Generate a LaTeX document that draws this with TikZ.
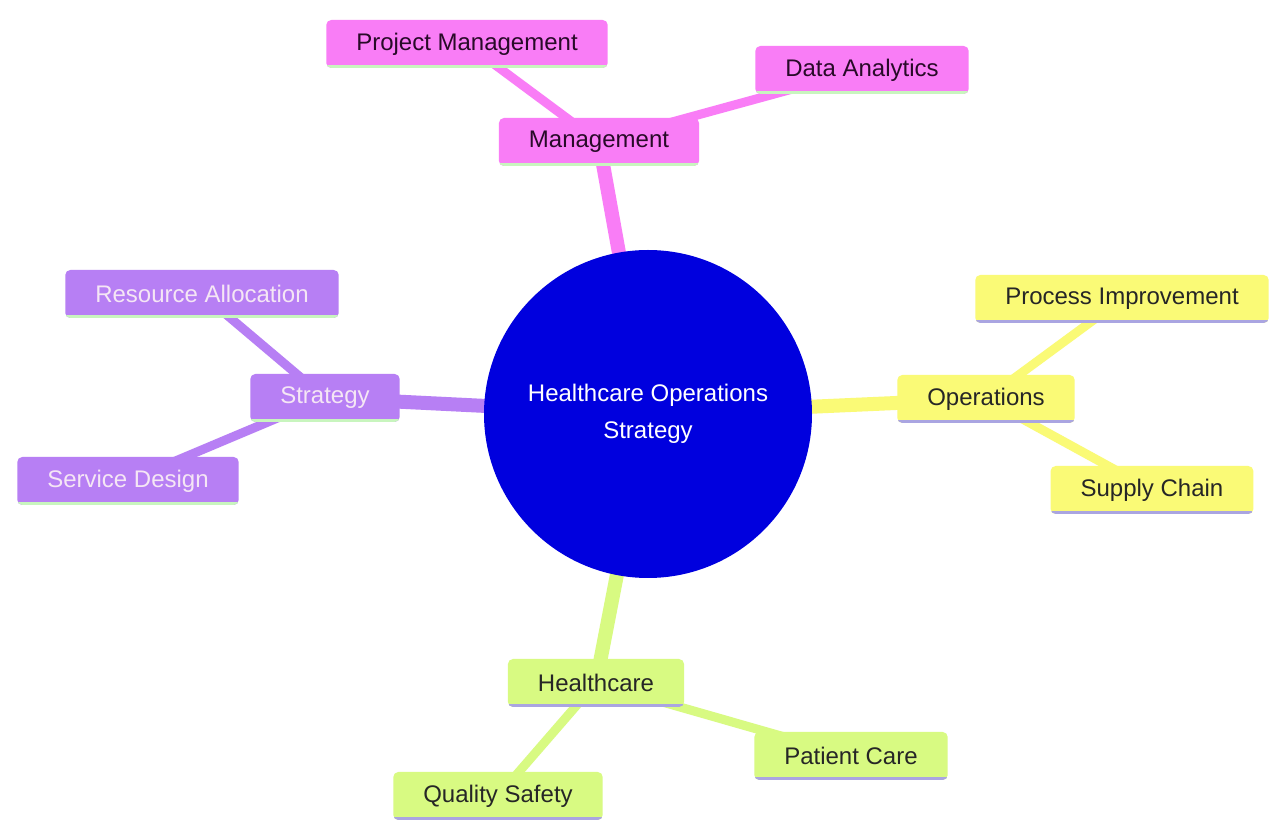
\documentclass[tikz,border=0pt]{standalone}
\usepackage{fontspec}
\setmainfont{Liberation Sans}
\usetikzlibrary{backgrounds}
\definecolor{mgmt}{RGB}{249,125,246}
\definecolor{strat}{RGB}{183,127,244}
\definecolor{oper}{RGB}{250,250,118}
\definecolor{hcare}{RGB}{216,250,130}
\definecolor{rootblue}{RGB}{0,0,222}
\definecolor{ulgreen}{RGB}{200,245,190}
\definecolor{ullav}{RGB}{170,165,225}
\definecolor{softwhite}{RGB}{245,230,245}
\tikzset{
  box/.style={rounded corners=2.5pt, inner xsep=15pt, minimum height=24pt,
    font=\fontsize{12}{14}\selectfont},
  ul/.style={path picture={\draw[#1, line width=3pt]
    (path picture bounding box.south west) -- (path picture bounding box.south east);}},
  mgmtbox/.style={box, fill=mgmt, text={rgb,255:red,40;green,10;blue,40}, ul=ulgreen},
  stratbox/.style={box, fill=strat, text=softwhite, ul=ulgreen},
  operbox/.style={box, fill=oper, text=black!85, ul=ullav},
  hcarebox/.style={box, fill=hcare, text=black!85, ul=ullav},
  trunk/.style={line width=7pt},
  twig/.style={line width=4.5pt}
}
\begin{document}
\begin{tikzpicture}[x=0.5pt,y=-0.5pt]
  \useasboundingbox (0,0) rectangle (1271,823);
  % centre
  \node[circle, fill=rootblue, minimum size=164pt, text=white, align=center,
    font=\fontsize{12}{18.5}\selectfont] (root) at (648,414)
    {Healthcare Operations\\Strategy};
  % branches
  \node[mgmtbox] (mgmt) at (599,142) {Management};
  \node[mgmtbox] (projmgmt) at (467,44) {Project Management};
  \node[mgmtbox] (data) at (862,70) {Data Analytics};
  \node[stratbox] (strat) at (325,398) {Strategy};
  \node[stratbox] (resalloc) at (202,294) {Resource Allocation};
  \node[stratbox] (service) at (128,481) {Service Design};
  \node[operbox] (oper) at (986,399) {Operations};
  \node[operbox] (process) at (1122,299) {Process Improvement};
  \node[operbox] (supply) at (1152,490) {Supply Chain};
  \node[hcarebox] (hcare) at (596,683) {Healthcare};
  \node[hcarebox] (patient) at (851,756) {Patient Care};
  \node[hcarebox] (quality) at (498,796) {Quality Safety};
  % connectors
  \begin{scope}[on background layer]
    \fill[white] (0,0) rectangle (1271,823);
    \draw[trunk, mgmt] (root.center) -- (mgmt.center);
    \draw[twig, mgmt] (mgmt.center) -- (projmgmt.center);
    \draw[twig, mgmt] (mgmt.center) -- (data.center);
    \draw[trunk, strat] (root.center) -- (strat.center);
    \draw[twig, strat] (strat.center) -- (resalloc.center);
    \draw[twig, strat] (strat.center) -- (service.center);
    \draw[trunk, oper] (root.center) -- (oper.center);
    \draw[twig, oper] (oper.center) -- (process.center);
    \draw[twig, oper] (oper.center) -- (supply.center);
    \draw[trunk, hcare] (root.center) -- (hcare.center);
    \draw[twig, hcare] (hcare.center) -- (patient.center);
    \draw[twig, hcare] (hcare.center) -- (quality.center);
  \end{scope}
\end{tikzpicture}
\end{document}
